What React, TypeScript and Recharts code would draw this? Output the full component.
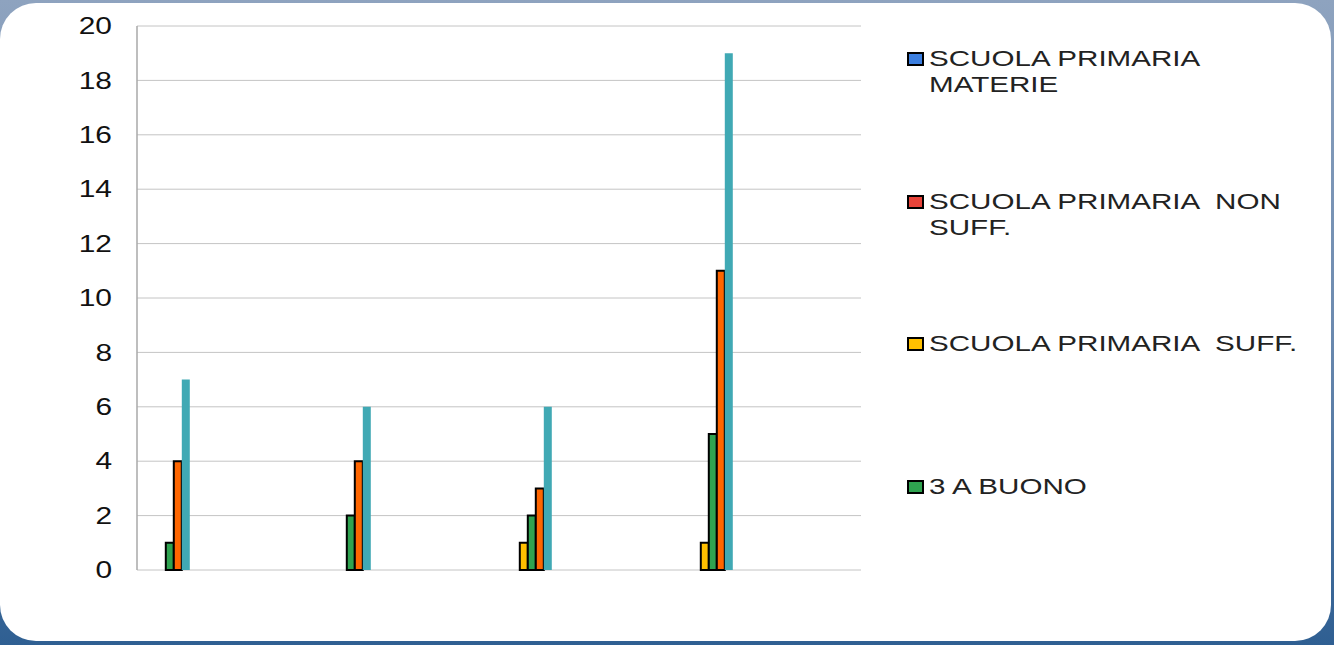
import React from 'react';
import { BarChart, Bar, XAxis, YAxis, CartesianGrid } from 'recharts';

const categories = ['Gruppo 1', 'Gruppo 2', 'Gruppo 3', 'Gruppo 4'];
const materie: (number | null)[] = [null, null, null, null];
const nonSuff: (number | null)[] = [null, null, null, null];
const suff: (number | null)[] = [null, null, 1, 1];
const buono: (number | null)[] = [1, 2, 2, 5];
const serie5: (number | null)[] = [4, 4, 3, 11];
const serie6: (number | null)[] = [7, 6, 6, 19];
const yTicks = [0, 2, 4, 6, 8, 10, 12, 14, 16, 18, 20];

const legendLabels = ['SCUOLA PRIMARIA\nMATERIE', 'SCUOLA PRIMARIA  NON\nSUFF.', 'SCUOLA PRIMARIA  SUFF.', '3 A BUONO'];
const legendColors = ['#3c7fe0', '#e8443a', '#ffc000', '#2fa350'];

const spacerCount = 15;

const data = categories.map((name, i) => ({
  name,
  materie: materie[i],
  nonSuff: nonSuff[i],
  suff: suff[i],
  buono: buono[i],
  serie5: serie5[i],
  serie6: serie6[i],
}));

const YTick = (props: any) => {
  const { x, y, payload } = props;
  return (
    <text
      x={x}
      y={y}
      dy="0.36em"
      textAnchor="end"
      fontFamily="'Liberation Sans', Arial, sans-serif"
      fontSize={23}
      fill="#111"
      transform={`translate(${x},${y}) scale(1.3,1) translate(${-x},${-y})`}
    >
      {payload.value}
    </text>
  );
};

export default function App() {
  return (
    <div
      style={{
        position: 'absolute',
        left: 0,
        top: 0,
        width: 1334,
        height: 645,
        overflow: 'hidden',
        background: 'linear-gradient(#8ea3bf, #6d8bb0 50%, #2f5f92)',
      }}
    >
      <div
        style={{
          position: 'absolute',
          left: 0,
          top: 3,
          width: 1331,
          height: 638,
          background: '#fff',
          borderRadius: 36,
        }}
      />
      <div style={{ position: 'absolute', left: 0, top: 0 }}>
        <BarChart
          width={1334}
          height={645}
          data={data}
          margin={{ top: 26, right: 473, left: 77, bottom: 75 }}
          barCategoryGap={4.8}
          barGap={0}
        >
          <CartesianGrid vertical={false} stroke="#c4c4c4" strokeWidth={1} />
          <XAxis
            dataKey="name"
            tick={false}
            tickLine={false}
            height={0}
            axisLine={{ stroke: '#8a8a8a', strokeWidth: 2 }}
          />
          <YAxis
            domain={[0, 20]}
            ticks={yTicks}
            width={60}
            tickLine={false}
            tickSize={0}
            tickMargin={25}
            axisLine={{ stroke: '#a8a8a8', strokeWidth: 1.5 }}
            tick={<YTick />}
            interval={0}
          />
          <Bar dataKey="materie" fill="#3c7fe0" stroke="#000" strokeWidth={2} isAnimationActive={false} />
          <Bar dataKey="nonSuff" fill="#e8443a" stroke="#000" strokeWidth={2} isAnimationActive={false} />
          <Bar dataKey="suff" fill="#ffc000" stroke="#000" strokeWidth={2} isAnimationActive={false} />
          <Bar dataKey="buono" fill="#2fa350" stroke="#000" strokeWidth={2} isAnimationActive={false} />
          <Bar dataKey="serie5" fill="#ff6600" stroke="#000" strokeWidth={2} isAnimationActive={false} />
          <Bar dataKey="serie6" fill="#40a9b4" isAnimationActive={false} />
          {Array.from({ length: spacerCount }, (_, k) => (
            <Bar key={k} dataKey={`spacer${k}`} fill="none" isAnimationActive={false} legendType="none" />
          ))}
        </BarChart>
      </div>
      {legendLabels.map((label, i) => (
        <div key={i} style={{ position: 'absolute', left: 907, top: 46 + i * 142.7 }}>
          <div
            style={{
              position: 'absolute',
              left: 0,
              top: 6,
              width: 13,
              height: 10,
              background: legendColors[i],
              border: '2px solid #000',
            }}
          />
          <div
            style={{
              position: 'absolute',
              left: 22,
              top: 0,
              whiteSpace: 'pre',
              fontFamily: "'Liberation Sans', Arial, sans-serif",
              fontSize: 22,
              lineHeight: '26px',
              color: '#222',
              transform: 'scaleX(1.345)',
              transformOrigin: 'left top',
            }}
          >
            {label}
          </div>
        </div>
      ))}
    </div>
  );
}
